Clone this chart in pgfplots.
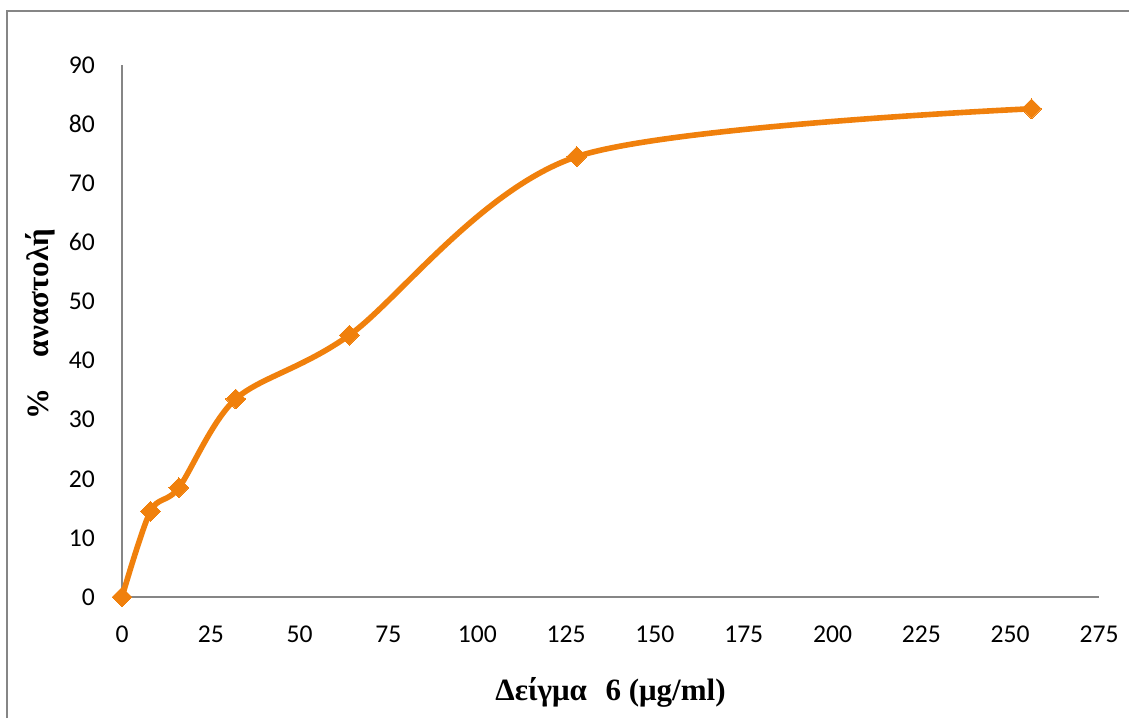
\documentclass[border=0pt]{standalone}
\usepackage{fontspec}
\setmainfont{Liberation Serif}
\newfontfamily\calibri{Carlito}
\usepackage{pgfplots}
\pgfplotsset{compat=1.18}
\definecolor{exorange}{RGB}{240,128,12}
\definecolor{axgray}{RGB}{134,134,134}
\begin{document}
\begin{tikzpicture}
  % page frame (0.5pt per pixel of the reference)
  \useasboundingbox (0,0) rectangle (564.5pt,359pt);
  \draw[axgray, line width=1pt] (3.5pt,0) -- (3.5pt,353.5pt) -- (564.5pt,353.5pt);
  \begin{axis}[
      at={(61pt,60.5pt)}, anchor=south west,
      scale only axis,
      width=488.5pt, height=266pt,
      xmin=0, xmax=275, ymin=0, ymax=90,
      xtick={0,25,...,275},
      ytick={0,10,...,90},
      axis x line=bottom, axis y line=left,
      axis line style={axgray, line width=1pt, -},
      major tick length=0pt,
      tick label style={font=\calibri\fontsize{12.8}{14}\selectfont},
      /pgf/number format/assume math mode=true,
      xticklabel style={yshift=-11pt},
      yticklabel style={xshift=-10pt},
      xlabel={\textbf{Δείγμα\hspace{0.6em}6 (μg/ml)}},
      ylabel={\textbf{\%\hspace{1em}αναστολή}},
      label style={font=\fontsize{15.5}{17}\selectfont},
      xlabel style={at={(axis description cs:0.5,-0.18)}, anchor=center},
      ylabel style={at={(axis description cs:-0.084,0.513)}, anchor=center, rotate=0},
      clip=false,
    ]
    \addplot[exorange, line width=2.8pt, smooth, tension=0.5,
      mark=square*, mark size=3.5pt,
      mark options={rotate=45, line width=0pt, fill=exorange, draw=exorange}]
      coordinates {
        (0,0) (8,14.5) (16,18.5) (32,33.5) (64,44.3) (128,74.5) (256,82.6)
      };
  \end{axis}
\end{tikzpicture}
\end{document}
